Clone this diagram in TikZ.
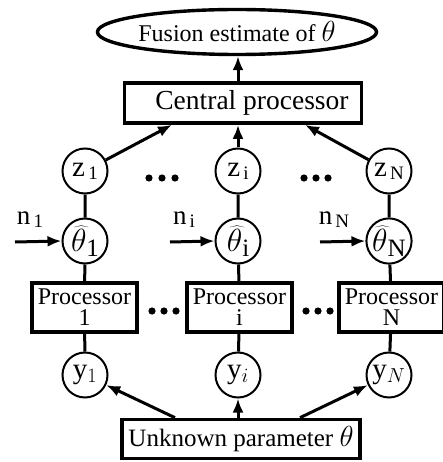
\RequirePackage{fix-cm}
\documentclass[tikz,border=0pt]{standalone}
\usepackage{fontspec}
\setmainfont{Liberation Serif}
\usetikzlibrary{shapes.geometric,arrows.meta}

\newcommand{\lowsub}[1]{{\fontsize{19}{19}\selectfont\,\raisebox{-3pt}{#1}}}
\newcommand{\hatsub}[1]{{\fontsize{25}{25}\selectfont\raisebox{-5pt}{#1}}}

\tikzset{
  var/.style={circle,draw,line width=2pt,minimum size=45pt,inner sep=0pt,font=\fontsize{29}{29}\selectfont},
  procbox/.style={rectangle,draw,line width=3.6pt,minimum width=105pt,minimum height=49pt,inner sep=0pt,align=center,font=\fontsize{24}{21}\selectfont},
  arr/.style={line width=3pt,-{Latex[length=14pt,width=11pt]}},
  link/.style={line width=3pt}
}

\begin{document}
\begin{tikzpicture}[x=1pt,y=-1pt]
\useasboundingbox (0,0) rectangle (443,462);

% top
\node[ellipse,draw,line width=3.4pt,minimum width=272pt,minimum height=45pt,inner sep=0pt,font=\fontsize{24}{24}\selectfont] (fus) at (237,32) {Fusion estimate of {\fontsize{29}{29}\selectfont$\theta$}};
\node[rectangle,draw,line width=3.6pt,minimum width=237pt,minimum height=40pt,inner sep=0pt,font=\fontsize{27.5}{27.5}\selectfont] (cp) at (243,103) {\hspace*{18pt}Central processor};

% sensors
\node[var] (z1) at (85,171) {z\lowsub{1}};
\node[var] (zi) at (238,171) {z\lowsub{i}};
\node[var] (zN) at (389,171) {z\lowsub{N}};

\node[var,font=\fontsize{32}{32}\selectfont] (t1) at (85,241) {$\widehat{\theta}$\hatsub{1}};
\node[var,font=\fontsize{32}{32}\selectfont] (ti) at (238,241) {$\widehat{\theta}$\hatsub{i}};
\node[var,font=\fontsize{32}{32}\selectfont] (tN) at (389,241) {$\widehat{\theta}$\hatsub{N}};

\node[procbox] (p1) at (84.5,307.5) {Processor\\1};
\node[procbox] (pi) at (239.5,307.5) {Processor\\i};
\node[procbox] (pN) at (391.5,307.5) {Processor\\N};

\node[var] (y1) at (85,375) {$\mathrm{y}_1$};
\node[var] (yi) at (238,375) {$\mathrm{y}_i$};
\node[var] (yN) at (389,375) {$\mathrm{y}_N$};

\node[rectangle,draw,line width=3.6pt,minimum width=238pt,minimum height=39pt,inner sep=0pt,font=\fontsize{25}{25}\selectfont] (u) at (241,439) {Unknown parameter {\fontsize{29}{29}\selectfont$\theta$}};

% noise inputs
\coordinate (n1s) at (15,242);
\coordinate (nis) at (170,242);
\coordinate (nNs) at (320,242);
\node[font=\fontsize{27}{27}\selectfont] (n1) at (30,220) {n\lowsub{1}};
\node[font=\fontsize{27}{27}\selectfont] (ni) at (184,220) {n\lowsub{i}};
\node[font=\fontsize{27}{27}\selectfont] (nN) at (334,220) {n\lowsub{N}};
\draw[arr] (n1s) -- (t1.west);
\draw[arr] (nis) -- (ti.west);
\draw[arr] (nNs) -- (tN.west);

% dots
\foreach \x in {149,162,175,304,316,328} \fill (\x,178) circle (3.6pt);
\foreach \x in {152,164,176,306,318,330} \fill (\x,311) circle (3.6pt);

% chains
\draw[link] (z1) -- (t1) (t1) -- (p1) (p1) -- (y1);
\draw[link] (zi) -- (ti) (ti) -- (pi) (pi) -- (yi);
\draw[link] (zN) -- (tN) (tN) -- (pN) (pN) -- (yN);

% arrows
\draw[arr] (z1) -- ([xshift=-71pt]cp.south);
\draw[arr] (zi) -- (zi |- cp.south);
\draw[arr] (zN) -- ([xshift=62pt]cp.south);
\draw[arr] (zi |- cp.north) -- (zi |- fus.south);
\draw[arr] ([xshift=-66pt]u.north) -- (y1);
\draw[arr] (yi |- u.north) -- (yi);
\draw[arr] ([xshift=59pt]u.north) -- (yN);
\end{tikzpicture}
\end{document}
